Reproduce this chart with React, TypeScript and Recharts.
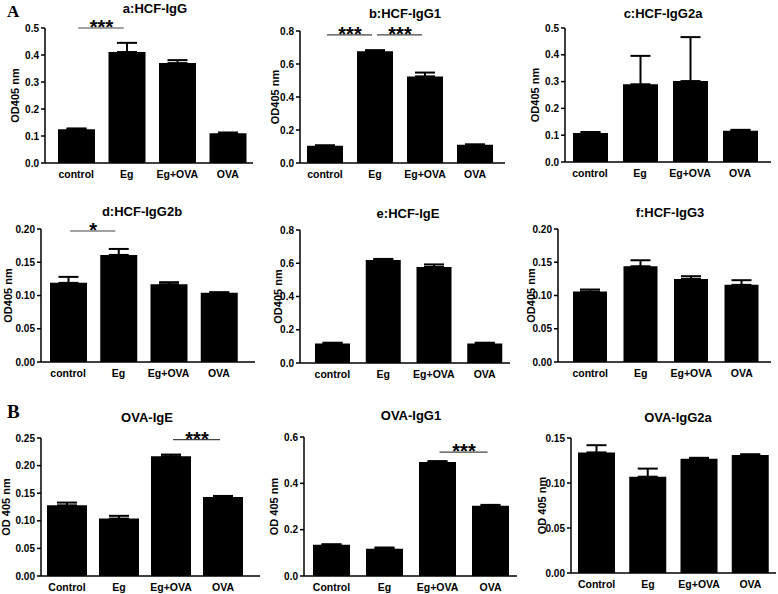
import React from 'react';
import { BarChart, Bar, XAxis, YAxis, ErrorBar, ReferenceLine } from 'recharts';

const groupsHCF = ['control', 'Eg', 'Eg+OVA', 'OVA'];
const groupsOVA = ['Control', 'Eg', 'Eg+OVA', 'OVA'];

// means and SEM (upper error only)
const meanA = [0.125, 0.411, 0.37, 0.11];
const semA = [0.003, 0.034, 0.011, 0.003];
const meanB = [0.105, 0.678, 0.525, 0.11];
const semB = [0.002, 0.006, 0.023, 0.003];
const meanC = [0.108, 0.29, 0.302, 0.117];
const semC = [0.004, 0.106, 0.164, 0.003];
const meanD = [0.119, 0.161, 0.117, 0.104];
const semD = [0.009, 0.009, 0.003, 0.001];
const meanE = [0.118, 0.62, 0.578, 0.118];
const semE = [0.004, 0.006, 0.015, 0.004];
const meanF = [0.106, 0.144, 0.125, 0.116];
const semF = [0.003, 0.009, 0.004, 0.007];
const meanG = [0.128, 0.104, 0.217, 0.143];
const semG = [0.005, 0.005, 0.003, 0.002];
const meanH = [0.135, 0.118, 0.492, 0.303];
const semH = [0.002, 0.005, 0.004, 0.004];
const meanI = [0.134, 0.107, 0.127, 0.131];
const semI = [0.008, 0.009, 0.001, 0.001];

const ticks5 = [0, 0.1, 0.2, 0.3, 0.4, 0.5];
const ticks8 = [0, 0.2, 0.4, 0.6, 0.8];
const ticks20 = [0, 0.05, 0.1, 0.15, 0.2];
const ticks25 = [0, 0.05, 0.1, 0.15, 0.2, 0.25];
const ticks6 = [0, 0.2, 0.4, 0.6];
const ticks15 = [0, 0.05, 0.1, 0.15];

const titles = ['a:HCF-IgG', 'b:HCF-IgG1', 'c:HCF-IgG2a', 'd:HCF-IgG2b', 'e:HCF-IgE', 'f:HCF-IgG3', 'OVA-IgE', 'OVA-IgG1', 'OVA-IgG2a'];

const sigA = [{ from: 'control', to: 'Eg', y: 0.5, label: '***' }];
const sigB = [
  { from: 'control', to: 'Eg', y: 0.776, label: '***' },
  { from: 'Eg', to: 'Eg+OVA', y: 0.776, label: '***' },
];
const sigD = [{ from: 'control', to: 'Eg', y: 0.197, label: '*' }];
const sigG = [{ from: 'Eg+OVA', to: 'OVA', y: 0.247, label: '***' }];
const sigH = [{ from: 'Eg+OVA', to: 'OVA', y: 0.535, label: '***' }];

const FONT = '"Liberation Sans", Arial, sans-serif';
const Y_W = 60;
const TOP = 32;
const BOTTOM = 25;

// page geometry of each plot
const layout = [
  { axisX: 45, topY: 28, bottomY: 163, rightX: 253, padL: 6, padR: 0, barSize: 37, titleX: 155, titleY: 8, labelX: 15 },
  { axisX: 300, topY: 31, bottomY: 163, rightX: 505, padL: 0, padR: 5, barSize: 36, titleX: 405, titleY: 13, labelX: 275 },
  { axisX: 565, topY: 28, bottomY: 162, rightX: 771, padL: 0, padR: 6, barSize: 35, titleX: 663, titleY: 13, labelX: 535 },
  { axisX: 41, topY: 229, bottomY: 362, rightX: 255, padL: 2, padR: 11, barSize: 37, titleX: 142, titleY: 211, labelX: 8 },
  { axisX: 300, topY: 230, bottomY: 363, rightX: 510, padL: 7, padR: 0, barSize: 35, titleX: 408, titleY: 213, labelX: 278 },
  { axisX: 558, topY: 229, bottomY: 362, rightX: 771, padL: 7, padR: 4, barSize: 34, titleX: 670, titleY: 212, labelX: 531 },
  { axisX: 41, topY: 438, bottomY: 576, rightX: 260, padL: 0, padR: 11, barSize: 40, titleX: 147, titleY: 417, labelX: 6 },
  { axisX: 304, topY: 437, bottomY: 576, rightX: 517, padL: 1, padR: 0, barSize: 37, titleX: 411, titleY: 415, labelX: 274 },
  { axisX: 571, topY: 438, bottomY: 573, rightX: 776, padL: 0, padR: 0, barSize: 37, titleX: 678, titleY: 417, labelX: 542 },
];

const panels = [
  { groups: groupsHCF, means: meanA, sems: semA, ticks: ticks5, dec: 1, sig: sigA, yLabel: 'OD405 nm' },
  { groups: groupsHCF, means: meanB, sems: semB, ticks: ticks8, dec: 1, sig: sigB, yLabel: 'OD405 nm' },
  { groups: groupsHCF, means: meanC, sems: semC, ticks: ticks5, dec: 1, sig: [], yLabel: 'OD405 nm' },
  { groups: groupsHCF, means: meanD, sems: semD, ticks: ticks20, dec: 2, sig: sigD, yLabel: 'OD405 nm' },
  { groups: groupsHCF, means: meanE, sems: semE, ticks: ticks8, dec: 1, sig: [], yLabel: 'OD405 nm' },
  { groups: groupsHCF, means: meanF, sems: semF, ticks: ticks20, dec: 2, sig: [], yLabel: 'OD405 nm' },
  { groups: groupsOVA, means: meanG, sems: semG, ticks: ticks25, dec: 2, sig: sigG, yLabel: 'OD 405 nm' },
  { groups: groupsOVA, means: meanH, sems: semH, ticks: ticks6, dec: 1, sig: sigH, yLabel: 'OD 405 nm' },
  { groups: groupsOVA, means: meanI, sems: semI, ticks: ticks15, dec: 2, sig: [], yLabel: 'OD 405 nm' },
];

const xTickStyle = { fontSize: 10.5, fontWeight: 'bold', fill: '#000', fontFamily: FONT };
const yTickStyle = { fontSize: 10, fontWeight: 'bold', fill: '#000', fontFamily: FONT };

const sigShape = (label: string) => (props: any) => {
  const { x1, y1, x2 } = props;
  return (
    <g>
      <line x1={x1 + 2} y1={y1} x2={x2 - 3} y2={y1} stroke="#444" strokeWidth={1.2} />
      <text x={(x1 + x2) / 2} y={y1 + 6} textAnchor="middle" fontSize={20} fontWeight="bold" fontFamily={FONT} fill="#000">
        {label}
      </text>
    </g>
  );
};

const Panel = ({ spec, p }: any) => {
  const data = p.groups.map((g: string, i: number) => ({ group: g, mean: p.means[i], sem: [0, p.sems[i]] }));
  const w = spec.rightX - spec.axisX + Y_W + 3;
  const h = spec.bottomY - spec.topY + TOP + BOTTOM;
  return (
    <div style={{ position: 'absolute', left: spec.axisX - Y_W, top: spec.topY - TOP, width: w, height: h }}>
      <BarChart width={w} height={h} data={data} margin={{ top: TOP, right: 3, left: 0, bottom: 0 }} barSize={spec.barSize}>
        <XAxis
          dataKey="group"
          height={BOTTOM}
          interval={0}
          tickLine={false}
          axisLine={{ stroke: '#000', strokeWidth: 1.5 }}
          tick={xTickStyle}
          padding={{ left: spec.padL, right: spec.padR }}
        />
        <YAxis
          width={Y_W}
          domain={[0, p.ticks[p.ticks.length - 1]]}
          ticks={p.ticks}
          interval={0}
          tickSize={4}
          tickMargin={2}
          tickFormatter={(v: number) => v.toFixed(p.dec)}
          axisLine={{ stroke: '#000', strokeWidth: 1.5 }}
          tickLine={{ stroke: '#000', strokeWidth: 1.5 }}
          tick={yTickStyle}
        />
        <Bar dataKey="mean" fill="#000" isAnimationActive={false}>
          <ErrorBar dataKey="sem" direction="y" width={10} stroke="#000" strokeWidth={2} />
        </Bar>
        {p.sig.map((s: any, i: number) => (
          <ReferenceLine
            key={i}
            segment={[{ x: s.from, y: s.y }, { x: s.to, y: s.y }]}
            ifOverflow="visible"
            shape={sigShape(s.label)}
          />
        ))}
      </BarChart>
    </div>
  );
};

export default function App() {
  return (
    <div style={{ position: 'absolute', left: 0, top: 0, width: 778, height: 594, background: '#fff', overflow: 'hidden' }}>
      {panels.map((p, i) => (
        <Panel key={i} spec={layout[i]} p={p} />
      ))}
      <svg width={778} height={594} style={{ position: 'absolute', left: 0, top: 0, pointerEvents: 'none' }}>
        <text x={7} y={17} fontSize={17} fontWeight="bold" fontFamily='"Liberation Serif", "Times New Roman", serif'>A</text>
        <text x={7} y={418} fontSize={19} fontWeight="bold" fontFamily='"Liberation Serif", "Times New Roman", serif'>B</text>
        {layout.map((s, i) => (
          <text key={'t' + i} x={s.titleX} y={s.titleY + 4.7} textAnchor="middle" fontSize={13} fontWeight="bold" fontFamily={FONT}>
            {titles[i]}
          </text>
        ))}
        {layout.map((s, i) => {
          const cy = (s.topY + s.bottomY) / 2;
          const cx = s.labelX + 4;
          return (
            <text key={'y' + i} x={cx} y={cy} transform={`rotate(-90 ${cx} ${cy})`} textAnchor="middle" fontSize={11} fontWeight="bold" fontFamily={FONT}>
              {panels[i].yLabel}
            </text>
          );
        })}
      </svg>
    </div>
  );
}
